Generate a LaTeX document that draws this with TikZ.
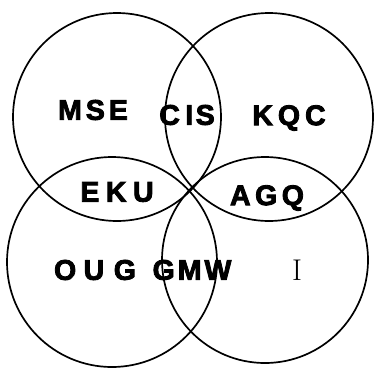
\documentclass[tikz,border=0pt]{standalone}
\usepackage{fontspec}
\newfontfamily\labfont[FakeBold=3]{Liberation Sans}
\begin{document}
\begin{tikzpicture}[x=1pt,y=-1pt,
  ring/.style={draw=black,line width=1.7pt},
  lab/.style={inner sep=0pt,font=\labfont\bfseries\fontsize{28.5}{28.5}\selectfont},
  serlab/.style={inner sep=0pt,font=\rmfamily\fontsize{30}{30}\selectfont}]
\useasboundingbox (0,0) rectangle (374,367);
\node[ring,circle,minimum size=208pt,inner sep=0pt] (tl) at (117,117) {};
\node[ring,circle,minimum size=208pt,inner sep=0pt] (tr) at (269,117) {};
\node[ring,circle,minimum size=210pt,inner sep=0pt] (bl) at (112,262) {};
\node[ring,circle,minimum size=206pt,inner sep=0pt] (br) at (265,260) {};
\node[lab] (mse) at (93,110) {M\kern4pt S\kern4pt E};
\node[lab] (cis) at (187,115) {C\kern5.5pt I\kern2.5pt S};
\node[lab] (kqc) at (289,118) {K\kern5pt Q\kern5pt C};
\node[lab] (eku) at (117,192) {E\kern6.5pt K\kern6.5pt U};
\node[lab] (agq) at (267,198) {A\kern4.5pt G\kern4.5pt Q};
\node[lab] (oug) at (95,270) {O\kern7.5pt U\kern9.5pt G};
\node[lab] (gmw) at (192,270) {G\kern3pt M\kern3pt W};
\node[serlab] (i) at (297,270) {I};
\end{tikzpicture}
\end{document}
